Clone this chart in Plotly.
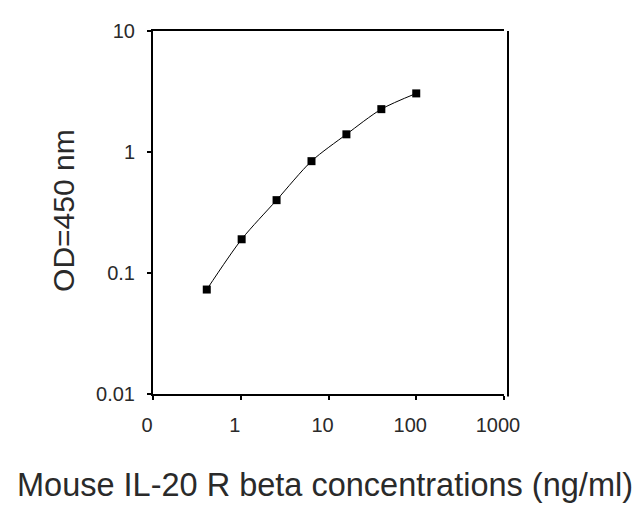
import plotly.graph_objects as go

concentrations = [0.41, 1.024, 2.56, 6.4, 16, 40, 100]
od_values = [0.073, 0.19, 0.40, 0.84, 1.40, 2.26, 3.05]

x_tick_vals = [0.1, 1, 10, 100, 1000]
x_tick_text = ["0", "1", "10", "100", "1000"]
y_tick_vals = [0.01, 0.1, 1, 10]
y_tick_text = ["0.01", "0.1", "1", "10"]

font_family = "Liberation Sans, Arial, sans-serif"
text_color = "#2a2a2a"

fig = go.Figure()
fig.add_trace(go.Scatter(
    x=concentrations, y=od_values,
    mode="lines+markers",
    line=dict(color="black", width=1, shape="spline", smoothing=0.8),
    marker=dict(symbol="square", size=8, color="black"),
    showlegend=False,
))

fig.update_layout(
    width=635, height=498,
    margin=dict(l=145, r=139, t=15, b=112),
    paper_bgcolor="white", plot_bgcolor="white",
    font=dict(family=font_family, color=text_color),
    xaxis=dict(
        type="log", range=[-1, 3],
        tickvals=x_tick_vals, ticktext=x_tick_text,
        showline=True, linecolor="black", linewidth=2, mirror=True,
        ticks="outside", ticklen=4, tickcolor="black", tickwidth=1.5,
        showgrid=False, zeroline=False,
        tickfont=dict(size=20, family=font_family, color=text_color),
        ticklabelshift=-6, ticklabelstandoff=8,
    ),
    yaxis=dict(
        type="log", range=[-2, 1],
        tickvals=y_tick_vals, ticktext=y_tick_text,
        showline=True, linecolor="black", linewidth=2,
        ticks="outside", ticklen=4, tickcolor="black", tickwidth=1.5,
        showgrid=False, zeroline=False,
        tickfont=dict(size=20, family=font_family, color=text_color),
        ticklabelstandoff=8,
    ),
    shapes=[dict(
        type="line", xref="paper", yref="paper",
        x0=1.0114, x1=1.0114, y0=-0.007, y1=1.0,
        line=dict(color="black", width=2),
    )],
    annotations=[
        dict(
            text="Mouse IL-20 R beta concentrations (ng/ml)",
            xref="paper", yref="paper",
            x=0.49, y=-0.252,
            xanchor="center", yanchor="middle",
            showarrow=False,
            font=dict(size=32.5, family=font_family, color=text_color),
        ),
        dict(
            text="OD=450 nm",
            xref="paper", yref="paper",
            x=-0.2536, y=0.507,
            xanchor="center", yanchor="middle",
            textangle=-90,
            showarrow=False,
            font=dict(size=30, family=font_family, color=text_color),
        ),
    ],
)

fig.write_html("out.html")
